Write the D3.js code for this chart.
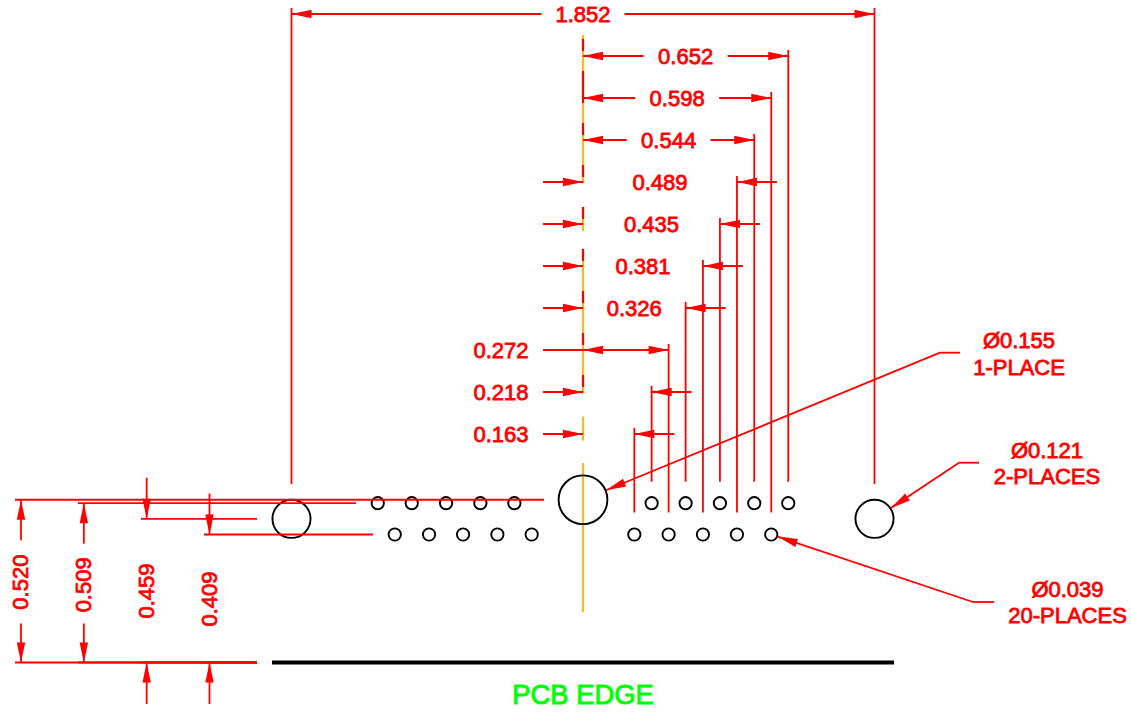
<!DOCTYPE html>
<html><head><meta charset="utf-8">
<script src="https://cdn.jsdelivr.net/npm/d3@7"></script>
<style>html,body{margin:0;padding:0;background:#fff;overflow:hidden}svg{display:block}
text{font-family:"Liberation Sans",Arial,sans-serif}</style></head>
<body><div id="c"></div>
<script>
// ---- Data (inches) ----
const overallWidth = 1.852;
const insideDims = [0.652, 0.598, 0.544];
const outsideDims = [0.489, 0.435, 0.381, 0.326];
const bothInsideLeftDim = [0.272];
const leftLabelDims = [0.218, 0.163];
const rowOrder = ["1.852","0.652","0.598","0.544","0.489","0.435","0.381","0.326","0.272","0.218","0.163"];
const topRowHoles = [0.652, 0.544, 0.435, 0.326, 0.218];
const bottomRowHoles = [0.598, 0.489, 0.381, 0.272, 0.163];
const heightDims = [0.520, 0.509, 0.459, 0.409];
const diaSmall = 0.039, diaMid = 0.121, diaLarge = 0.155;
const pcbHalfWidth = 0.988;
const leaderLabels = [["Ø0.155","1-PLACE"],["Ø0.121","2-PLACES"],["Ø0.039","20-PLACES"]];
const edgeLabel = "PCB EDGE";

// ---- Scales ----
const W = 1131, H = 715;
const x = d3.scaleLinear().domain([0,1]).range([583, 583+314.8]);
const y = d3.scaleLinear().domain([0,1]).range([662.5, 662.5-313]);
const row = d3.scalePoint().domain(rowOrder).range([14, 434]);
const fmt = d3.format(".3f");
const rPx = d => d/2*314.8;

const RED="#ff0000", ORANGE="#ffb914", LW=1.8, TSIZE=22, TOFF=7.6;
const svg = d3.select("#c").append("svg").attr("width",W).attr("height",H);
const gCenter = svg.append("g"), gHoles = svg.append("g"), gRed = svg.append("g");

function line(x1,y1,x2,y2,w=LW,c=RED,g=gRed){
  g.append("line").attr("x1",x1).attr("y1",y1).attr("x2",x2).attr("y2",y2)
   .attr("stroke",c).attr("stroke-width",w);
}
function arrow(tx,ty,fx,fy){ // tip at (tx,ty), pointing away from (fx,fy)
  const a=Math.atan2(fy-ty,fx-tx), L=20, hw=4.2;
  const bx=tx+L*Math.cos(a), by=ty+L*Math.sin(a);
  const p=d3.path();
  p.moveTo(tx,ty);
  p.lineTo(bx-hw*Math.sin(a),by+hw*Math.cos(a));
  p.lineTo(bx+hw*Math.sin(a),by-hw*Math.cos(a));
  p.closePath();
  gRed.append("path").attr("d",p.toString()).attr("fill",RED);
}
function label(t,px,py,size=TSIZE,c=RED,rot=false,sw=0.8){
  const s=gRed.append("text").text(t).attr("text-anchor","middle")
    .attr("font-size",size).attr("fill",c).attr("stroke",c).attr("stroke-width",sw);
  if(rot) s.attr("transform",`translate(${px+7.4},${py}) rotate(-90)`);
  else s.attr("x",px).attr("y",py);
}

// ---- Centre line ----
const centreBreaks = [[35,183.5],[206.7,231],[249,394],[416.7,440.7],[463,612]];
centreBreaks.forEach(b=>line(x(0),b[0],x(0),b[1],2.2,ORANGE,gCenter));

// ---- Holes ----
const hole=(v,h,d)=>gHoles.append("circle").attr("cx",x(v)).attr("cy",y(h)).attr("r",rPx(d))
  .attr("fill","none").attr("stroke","#000").attr("stroke-width",1.9);
topRowHoles.forEach(v=>{hole(v,heightDims[1],diaSmall);hole(-v,heightDims[1],diaSmall);});
bottomRowHoles.forEach(v=>{hole(v,heightDims[3],diaSmall);hole(-v,heightDims[3],diaSmall);});
hole(0,heightDims[0],diaLarge);
hole(overallWidth/2,heightDims[2],diaMid);
hole(-overallWidth/2,heightDims[2],diaMid);

// ---- Red stubs of the centre-line extension ----
["0.652","0.598","0.544","0.489","0.435","0.381","0.326","0.272","0.218"].forEach(k=>{
  const r=row(k);
  if(k==="0.598") line(x(0),r-27,x(0),r+5,2.2);
  else line(x(0),r-17,x(0),r-5,2.2);
});

// ---- Extension lines ----
const topEnd=y(heightDims[1])-21.5, botEnd=y(heightDims[3])-22;
topRowHoles.forEach(v=>line(x(v),row(fmt(v))-6,x(v),topEnd));
bottomRowHoles.forEach(v=>line(x(v),row(fmt(v))-6,x(v),botEnd));
[1,-1].forEach(s=>line(x(s*overallWidth/2),row("1.852")-6,x(s*overallWidth/2),y(heightDims[2])-34.8));

// ---- Overall width ----
{
  const r=row("1.852"),cx=x(0),g=41.5;
  line(x(-overallWidth/2),r,cx-g,r); line(cx+g,r,x(overallWidth/2),r);
  arrow(x(-overallWidth/2),r,cx,r); arrow(x(overallWidth/2),r,cx,r);
  label(fmt(overallWidth),cx,r+TOFF);
}
// ---- Inside dims: label between arrows ----
insideDims.forEach(v=>{
  const r=row(fmt(v)),cx=x(v/2),g=42;
  line(x(0),r,cx-g,r); line(cx+g,r,x(v),r);
  arrow(x(0),r,cx,r); arrow(x(v),r,cx,r);
  label(fmt(v),cx,r+TOFF);
});
// ---- Outside arrows: label between extension lines ----
outsideDims.forEach(v=>{
  const r=row(fmt(v));
  line(x(0)-40,r,x(0),r); line(x(v),r,x(v)+40,r);
  arrow(x(0),r,x(0)-40,r); arrow(x(v),r,x(v)+40,r);
  label(fmt(v),x(v/2),r+TOFF);
});
// ---- Label on the left, arrows inside ----
bothInsideLeftDim.forEach(v=>{
  const r=row(fmt(v));
  line(x(0)-40,r,x(v),r);
  arrow(x(0),r,x(v),r); arrow(x(v),r,x(0),r);
  label(fmt(v),501,r+TOFF);
});
leftLabelDims.forEach(v=>{
  const r=row(fmt(v));
  line(x(0)-40,r,x(0),r); line(x(v),r,x(v)+40,r);
  arrow(x(0),r,x(0)-40,r); arrow(x(v),r,x(v)+40,r);
  label(fmt(v),501,r+TOFF);
});

// ---- Height dims ----
const dimX = d3.scalePoint().domain(heightDims).range([21,209.5]);
const refStart = d3.scalePoint().domain(heightDims).range([15,204]);
const refEnd = new Map([[0.520,544],[0.509,356],[0.459,257],[0.409,373]]);
const edgeRedEnd = 257;
heightDims.forEach((v,i)=>{
  const dx=dimX(v), ys=refStart(v);
  line(ys,y(v),refEnd.get(v),y(v));
  line(ys,y(0),edgeRedEnd,y(0));
  if(i<2){
    line(dx,y(v),dx,y(v)+40.5); line(dx,y(0)-39,dx,y(0));
    arrow(dx,y(v),dx,y(v)+40); arrow(dx,y(0),dx,y(0)-39);
    label(fmt(v),dx,y(v/2)+(i?2:1),TSIZE,RED,true);
  } else {
    line(dx,y(v)-41,dx,y(v)); line(dx,y(0),dx,y(0)+41.5);
    arrow(dx,y(v),dx,y(v)-41); arrow(dx,y(0),dx,y(0)+41.5);
    label(fmt(v),dx,i===2?591:599,TSIZE,RED,true);
  }
});

// ---- PCB edge ----
line(x(-pcbHalfWidth),y(0),x(pcbHalfWidth),y(0),4,"#000");
label(edgeLabel,x(0),704,27.4,"#00ff00",false,0.9);

// ---- Leaders ----
const leaders=[
 {v:0,h:heightDims[0],d:diaLarge,knee:[940,352.7],end:960,tx:1019,ty:[347.6,374.6]},
 {v:overallWidth/2,h:heightDims[2],d:diaMid,knee:[959,462.7],end:979,tx:1047,ty:[457.6,483.6]},
 {v:bottomRowHoles[0],h:heightDims[3],d:diaSmall,knee:[973,602],end:994,tx:1067.5,ty:[597.3,623]}
];
leaders.forEach((l,i)=>{
  const cx=x(l.v),cy=y(l.h),a=Math.atan2(l.knee[1]-cy,l.knee[0]-cx),R=rPx(l.d)+.6;
  const tx=cx+R*Math.cos(a),ty=cy+R*Math.sin(a);
  line(tx,ty,l.knee[0],l.knee[1]); line(l.knee[0],l.knee[1],l.end,l.knee[1]);
  arrow(tx,ty,l.knee[0],l.knee[1]);
  leaderLabels[i].forEach((t,j)=>label(t,l.tx,l.ty[j]));
});
</script></body></html>
